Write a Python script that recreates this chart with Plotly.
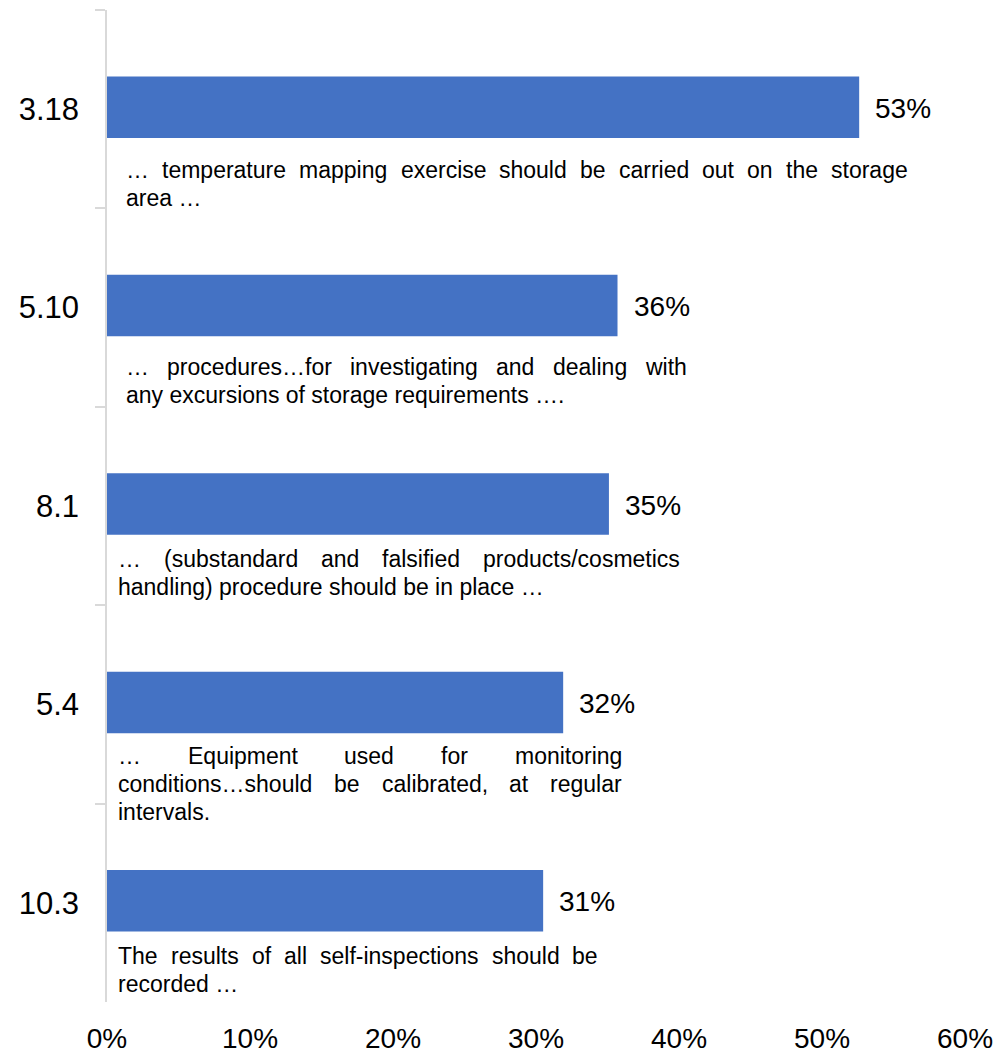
import plotly.graph_objects as go

# ---------------- data ----------------
categories = ["3.18", "5.10", "8.1", "5.4", "10.3"]
values = [0.526, 0.357, 0.351, 0.319, 0.305]
value_labels = ["53%", "36%", "35%", "32%", "31%"]
desc_lines = [
    ["… temperature mapping exercise should be carried out on the storage", "area …"],
    ["… procedures…for investigating and dealing with", "any excursions of storage requirements …."],
    ["… (substandard and falsified products/cosmetics", "handling) procedure should be in place …"],
    ["… Equipment used for monitoring", "conditions…should be calibrated, at regular", "intervals."],
    ["The results of all self-inspections should be", "recorded …"],
]
x_tick_vals = [0, 0.1, 0.2, 0.3, 0.4, 0.5, 0.6]
x_tick_text = ["0%", "10%", "20%", "30%", "40%", "50%", "60%"]

# ---------------- styling / layout ----------------
FONT = "Liberation Sans, Arial, sans-serif"
BAR_COLOR = "#4472C4"
AXIS_COLOR = "#D9D9D9"
DESC_SIZE = 23
LINE_H = 28
desc_left_px = [19, 19, 11, 11, 11]
desc_box_px = [782, 560, 562, 504, 480]
desc_first_dy = [61, 59, 53, 52, 53]
PAGE_OFF = 8  # default body margin of the html page

# Arial / Liberation Sans advance widths (1/1000 em)
AW = {' ': 278, '!': 278, '(': 333, ')': 333, ',': 278, '-': 333, '.': 278, '/': 278,
      '…': 1000, '%': 889,
      'A': 667, 'B': 667, 'C': 722, 'D': 722, 'E': 667, 'F': 611, 'G': 778, 'H': 722,
      'I': 278, 'J': 500, 'K': 667, 'L': 556, 'M': 833, 'N': 722, 'O': 778, 'P': 667,
      'Q': 778, 'R': 722, 'S': 667, 'T': 611, 'U': 722, 'V': 667, 'W': 944, 'X': 667,
      'Y': 667, 'Z': 611,
      'a': 556, 'b': 556, 'c': 500, 'd': 556, 'e': 556, 'f': 278, 'g': 556, 'h': 556,
      'i': 222, 'j': 222, 'k': 500, 'l': 222, 'm': 833, 'n': 556, 'o': 556, 'p': 556,
      'q': 556, 'r': 333, 's': 500, 't': 278, 'u': 556, 'v': 500, 'w': 722, 'x': 500,
      'y': 500, 'z': 500}


def text_w(s, size):
    return sum(AW.get(c, 556) for c in s) * size / 1000.0


fig = go.Figure()
fig.add_trace(go.Bar(
    y=categories, x=values, orientation="h",
    marker=dict(color=BAR_COLOR, line=dict(width=0)),
    width=0.31, offset=-0.165, hoverinfo="skip",
))

annotations = []
# value labels (y given as category index)
for i, (v, lab) in enumerate(zip(values, value_labels)):
    annotations.append(dict(
        x=v, y=i, xref="x", yref="y", text=lab, showarrow=False,
        xanchor="left", yanchor="middle", xshift=14, yshift=1,
        font=dict(family=FONT, size=28, color="#000000"),
    ))

# description texts (justified lines, last line left aligned)
for i, lines in enumerate(desc_lines):
    for j, line in enumerate(lines):
        yshift = -(desc_first_dy[i] + j * LINE_H)
        words = line.split(" ")
        if j < len(lines) - 1 and len(words) > 1:
            total = sum(text_w(w, DESC_SIZE) for w in words)
            gap = (desc_box_px[i] - total) / (len(words) - 1)
            pos = desc_left_px[i]
            for w in words:
                annotations.append(dict(
                    x=0, y=i, xref="x", yref="y", text=w, showarrow=False,
                    xanchor="left", yanchor="middle", xshift=pos - 2, yshift=yshift,
                    font=dict(family=FONT, size=DESC_SIZE, color="#000000"),
                ))
                pos += text_w(w, DESC_SIZE) + gap
        else:
            annotations.append(dict(
                x=0, y=i, xref="x", yref="y", text=line, showarrow=False,
                xanchor="left", yanchor="middle", xshift=desc_left_px[i] - 2, yshift=yshift,
                font=dict(family=FONT, size=DESC_SIZE, color="#000000"),
            ))

fig.update_layout(
    width=1007, height=1052,
    margin=dict(l=107 - PAGE_OFF, r=42 + PAGE_OFF, t=10 - PAGE_OFF, b=50 + PAGE_OFF),
    paper_bgcolor="white", plot_bgcolor="white",
    showlegend=False,
    font=dict(family=FONT, color="#000000"),
    annotations=annotations,
)
fig.update_xaxes(
    range=[0, 0.6], tickvals=x_tick_vals, ticktext=x_tick_text,
    showgrid=False, zeroline=False, showline=False, ticks="",
    tickfont=dict(family=FONT, size=28, color="#000000"),
    ticklabelstandoff=17,
)
fig.update_yaxes(
    type="category", categoryorder="array", categoryarray=categories,
    range=[len(categories) - 0.5, -0.5],
    showgrid=False, zeroline=False, showline=True, linecolor=AXIS_COLOR, linewidth=1.5,
    ticks="outside", ticklen=10, tickcolor=AXIS_COLOR, tickwidth=1.5,
    tickson="boundaries",
    tickfont=dict(family=FONT, size=31, color="#000000"),
    ticklabelstandoff=20,
)

fig.write_html("out.html")
